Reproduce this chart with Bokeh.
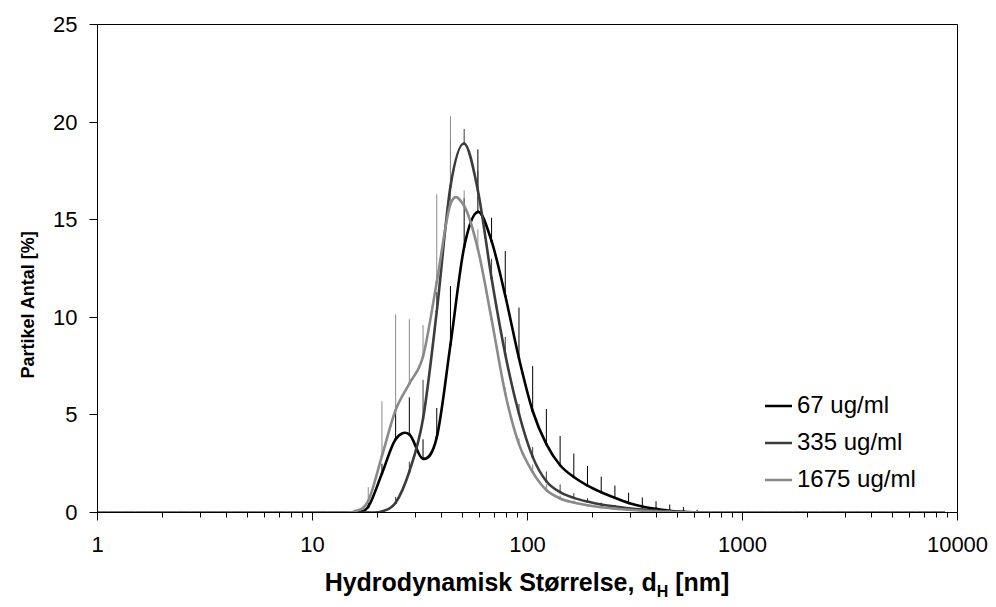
import math
from bokeh.plotting import figure
from bokeh.models import (Range1d, FixedTicker, PrintfTickFormatter, Legend,
                          LegendItem, Title, Div)
from bokeh.layouts import column
from bokeh.embed import file_html
from bokeh.resources import INLINE

# ---------------- data ----------------
sizes_nm = [0.9649, 1.117, 1.294, 1.499, 1.736, 2.01, 2.328, 2.696, 3.122, 3.615,
            4.187, 4.849, 5.615, 6.503, 7.531, 8.721, 10.1, 11.7, 13.54, 15.69,
            18.17, 21.04, 24.36, 28.21, 32.67, 37.84, 43.82, 50.75, 58.77, 68.06,
            78.82, 91.28, 105.7, 122.4, 141.8, 164.2, 190.1, 220.2, 255.0, 295.3,
            342.0, 396.1, 458.7, 531.2, 615.1, 712.4, 825.0, 955.4, 1106, 1281,
            1484, 1718, 1990, 2305, 2669, 3091, 3580, 4145, 4801, 5560,
            6439, 7456, 8635]

pct_67 = [0, 0, 0, 0, 0, 0, 0, 0, 0, 0,
          0, 0, 0, 0, 0, 0, 0, 0, 0, 0.0,
          0.3, 2.0, 3.75, 4.0, 2.75, 3.85, 8.6, 13.6, 15.4, 13.9,
          11.1, 7.9, 5.2, 3.5, 2.42, 1.82, 1.38, 1.04, 0.75, 0.49,
          0.31, 0.19, 0.09, 0.03, 0.01, 0, 0, 0, 0, 0,
          0, 0, 0, 0, 0, 0, 0, 0, 0, 0,
          0, 0, 0]
err_67 = [0, 0, 0, 0, 0, 0, 0, 0, 0, 0,
          0, 0, 0, 0, 0, 0, 0, 0, 0, 0.0,
          0.2, 0.5, 1.5, 1.9, 1.0, 1.5, 3.0, 2.5, 3.2, 1.2,
          2.3, 2.6, 2.3, 1.8, 1.5, 1.2, 1.0, 0.8, 0.63, 0.52,
          0.46, 0.39, 0.32, 0.24, 0.13, 0, 0, 0, 0, 0,
          0, 0, 0, 0, 0, 0, 0, 0, 0, 0,
          0, 0, 0]

pct_335 = [0, 0, 0, 0, 0, 0, 0, 0, 0, 0,
           0, 0, 0, 0, 0, 0, 0, 0, 0, 0.0,
           0.0, 0.05, 0.5, 2.1, 4.8, 10.3, 16.7, 18.9, 16.5, 12.0,
           8.1, 5.06, 2.85, 1.6, 1.04, 0.75, 0.56, 0.41, 0.31, 0.22,
           0.15, 0.1, 0.05, 0.02, 0.0, 0, 0, 0, 0, 0,
           0, 0, 0, 0, 0, 0, 0, 0, 0, 0,
           0, 0, 0]
err_335 = [0, 0, 0, 0, 0, 0, 0, 0, 0, 0,
           0, 0, 0, 0, 0, 0, 0, 0, 0, 0.0,
           0.0, 0.0, 0.3, 0.5, 2.0, 1.0, 2.4, 0.75, 1.0, 1.0,
           0.9, 0.5, 0.5, 0.5, 0.4, 0.25, 0.17, 0.1, 0.08, 0.05,
           0.03, 0, 0, 0, 0, 0, 0, 0, 0, 0,
           0, 0, 0, 0, 0, 0, 0, 0, 0, 0,
           0, 0, 0]

pct_1675 = [0, 0, 0, 0, 0, 0, 0, 0, 0, 0,
            0, 0, 0, 0, 0, 0, 0, 0, 0, 0.05,
            0.6, 2.9, 5.25, 6.6, 8.0, 11.8, 15.8, 15.7, 13.5, 9.9,
            6.1, 3.5, 2.07, 1.15, 0.72, 0.51, 0.37, 0.27, 0.2, 0.14,
            0.09, 0.05, 0.03, 0.01, 0.0, 0, 0, 0, 0, 0,
            0, 0, 0, 0, 0, 0, 0, 0, 0, 0,
            0, 0, 0]
err_1675 = [0, 0, 0, 0, 0, 0, 0, 0, 0, 0,
            0, 0, 0, 0, 0, 0, 0, 0, 0, 0.1,
            0.7, 2.8, 4.9, 3.3, 1.6, 4.5, 4.5, 0.8, 1.0, 0.3,
            0.3, 0.3, 0.4, 0.3, 0.15, 0.1, 0.05, 0, 0, 0,
            0, 0, 0, 0, 0, 0, 0, 0, 0, 0,
            0, 0, 0, 0, 0, 0, 0, 0, 0, 0,
            0, 0, 0]

series_names = ["67 ug/ml", "335 ug/ml", "1675 ug/ml"]
series_values = [pct_67, pct_335, pct_1675]
series_errors = [err_67, err_335, err_1675]
series_colors = ["#000000", "#3c3c3c", "#8a8a8a"]

x_ticks = [1, 10, 100, 1000, 10000]
y_ticks = [0, 5, 10, 15, 20, 25]

y_title = "Partikel Antal [%]"
x_title_main = "Hydrodynamisk Størrelse, d"
x_title_sub = "H"
x_title_unit = " [nm]"

FONT = "Liberation Sans"

# ---------------- figure ----------------
p = figure(width=996, height=565, x_axis_type="log",
           x_range=Range1d(1, 10000), y_range=Range1d(0, 25),
           output_backend="svg", toolbar_location=None,
           min_border_left=97, min_border_right=39,
           min_border_top=24, min_border_bottom=53)
p.xgrid.visible = False
p.ygrid.visible = False
p.outline_line_color = "black"
p.outline_line_width = 1
p.background_fill_color = "white"
p.border_fill_color = "white"


def smooth_segments(xs, ys):
    """Excel-style smoothed line: cubic Bezier segments through the points
    (control points from neighbouring points, in log-x space)."""
    lx = [math.log10(v) for v in xs]
    n = len(xs)
    out = dict(x0=[], y0=[], x1=[], y1=[], cx0=[], cy0=[], cx1=[], cy1=[])
    for i in range(n - 1):
        a = max(i - 1, 0)
        b = min(i + 2, n - 1)
        c1x = lx[i] + (lx[i + 1] - lx[a]) / 6.0
        c1y = ys[i] + (ys[i + 1] - ys[a]) / 6.0
        c2x = lx[i + 1] - (lx[b] - lx[i]) / 6.0
        c2y = ys[i + 1] - (ys[b] - ys[i]) / 6.0
        out["x0"].append(xs[i]); out["y0"].append(ys[i])
        out["x1"].append(xs[i + 1]); out["y1"].append(ys[i + 1])
        out["cx0"].append(10 ** c1x); out["cy0"].append(c1y)
        out["cx1"].append(10 ** c2x); out["cy1"].append(c2y)
    return out


# error bars (plus direction only)
for vals, errs, col in zip(series_values, series_errors, series_colors):
    bx = [s for s, e in zip(sizes_nm, errs) if e > 0]
    by0 = [v for v, e in zip(vals, errs) if e > 0]
    by1 = [v + e for v, e in zip(vals, errs) if e > 0]
    p.segment(x0=bx, y0=by0, x1=bx, y1=by1, line_color=col, line_width=1)

legend_items = []
for name, vals, col in zip(series_names, series_values, series_colors):
    seg = smooth_segments(sizes_nm, vals)
    r = p.bezier(x0=seg["x0"], y0=seg["y0"], x1=seg["x1"], y1=seg["y1"],
                 cx0=seg["cx0"], cy0=seg["cy0"], cx1=seg["cx1"], cy1=seg["cy1"],
                 line_color=col, line_width=2.6, line_cap="round")
    legend_items.append(LegendItem(label=name, renderers=[r]))

# ---------------- axes ----------------
xa = p.xaxis[0]
xa.ticker = FixedTicker(ticks=x_ticks,
                        minor_ticks=[m * 10 ** k for k in range(4) for m in range(2, 10)])
xa.formatter = PrintfTickFormatter(format="%d")
xa.major_tick_in = 0
xa.major_tick_out = 8
xa.minor_tick_in = 0
xa.minor_tick_out = 5
xa.axis_line_color = "black"
xa.major_tick_line_color = "black"
xa.minor_tick_line_color = "black"
xa.major_label_text_font = FONT
xa.major_label_text_font_size = "22px"
xa.major_label_text_color = "black"
xa.major_label_standoff = 16

ya = p.yaxis[0]
ya.ticker = FixedTicker(ticks=y_ticks)
ya.major_tick_in = 0
ya.major_tick_out = 8
ya.minor_tick_line_color = None
ya.axis_line_color = "black"
ya.major_tick_line_color = "black"
ya.major_label_text_font = FONT
ya.major_label_text_font_size = "22px"
ya.major_label_text_color = "black"
ya.major_label_standoff = 12

# y axis title, placed lower along the axis as in the reference
p.add_layout(Title(text=y_title, align="left", offset=134,
                   text_font=FONT, text_font_style="bold",
                   text_font_size="18px", text_color="black",
                   standoff=26), "left")

legend = Legend(items=legend_items, location=(668, 14.5),
                label_text_font=FONT, label_text_font_size="24px",
                label_text_color="black", glyph_width=27, glyph_height=37,
                label_height=37, spacing=0, padding=0, margin=0,
                label_standoff=5, border_line_color=None,
                background_fill_alpha=0)
p.add_layout(legend)

# x axis title (with subscript) as real HTML text under the plot
x_title_html = (
    '<div style="font-family:\'Liberation Sans\',Arial,sans-serif;font-weight:bold;'
    'font-size:25px;color:#000;text-align:center;width:860px;margin-left:97px;'
    'line-height:25px;padding-top:5px;white-space:nowrap;">'
    f'{x_title_main}<sub style="font-size:16px;line-height:0;">{x_title_sub}</sub>{x_title_unit}'
    '</div>'
)
x_title = Div(text=x_title_html, width=996, height=42, margin=0)

layout = column(p, x_title, spacing=0)

open("out.html", "w").write(file_html(layout, INLINE))
